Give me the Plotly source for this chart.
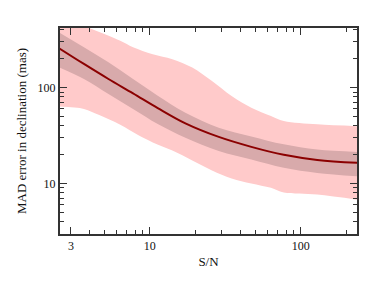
import plotly.graph_objects as go

# Outer (light) band
sn_hi = [2.5, 4.12, 6.37, 7.74, 10.46, 14.1, 19.1, 25.8, 34.8, 47.0, 63.4, 77.1, 128.5, 240]
light_hi = [550, 409, 308, 264, 223, 198, 162, 117, 81.7, 61.8, 50.5, 44.8, 41.4, 39.6]
sn_lo = [2.5, 3.66, 4.58, 6.37, 8.35, 10.46, 14.1, 19.1, 25.8, 34.8, 47.0, 63.4, 77.1, 128.5, 240]
light_lo = [63.5, 60.0, 52.0, 40.9, 32.0, 26.8, 22.1, 17.4, 13.7, 11.3, 10.0, 9.0, 8.05, 7.67, 6.75]

# Inner (dark) band and median line
sn = [2.5, 3.66, 5.32, 7.74, 11.28, 17.2, 28.6, 47.0, 77.1, 128.5, 240]
dark_hi = [378, 264, 184, 123, 82.5, 54.8, 38.2, 31.0, 25.6, 22.6, 21.3]
dark_lo = [163, 123, 85.8, 59.8, 41.7, 30.0, 21.8, 17.8, 14.6, 12.9, 11.9]
median = [258, 176.5, 123, 87.2, 61.2, 42.4, 30.6, 24.1, 19.9, 17.6, 16.4]

x_ticks = [3, 10, 100]
x_minor = [4, 5, 6, 7, 8, 9, 20, 30, 40, 50, 60, 70, 80, 90, 200]
y_ticks = [10, 100]
y_minor = [3, 4, 5, 6, 7, 8, 9, 20, 30, 40, 50, 60, 70, 80, 90, 200, 300, 400]

LIGHT = "#ffcaca"
DARK = "#d8aaab"
LINE = "#8b0000"
AX = "#333333"
TXT = "#111111"
FONT = "Liberation Serif"
SM = 1.0

fig = go.Figure()
fig.add_trace(go.Scatter(x=sn_hi, y=light_hi, mode="lines",
                         line=dict(width=0, shape="spline", smoothing=SM),
                         hoverinfo="skip", showlegend=False))
fig.add_trace(go.Scatter(x=sn_lo, y=light_lo, mode="lines",
                         line=dict(width=0, shape="spline", smoothing=SM),
                         fill="tonexty", fillcolor=LIGHT, hoverinfo="skip", showlegend=False))
fig.add_trace(go.Scatter(x=sn, y=dark_hi, mode="lines",
                         line=dict(width=0, shape="spline", smoothing=SM),
                         hoverinfo="skip", showlegend=False))
fig.add_trace(go.Scatter(x=sn, y=dark_lo, mode="lines",
                         line=dict(width=0, shape="spline", smoothing=SM),
                         fill="tonexty", fillcolor=DARK, hoverinfo="skip", showlegend=False))
fig.add_trace(go.Scatter(x=sn, y=median, mode="lines",
                         line=dict(width=2, color=LINE, shape="spline", smoothing=SM),
                         showlegend=False))

axis_common = dict(
    type="log", showgrid=False, zeroline=False, showline=True, linecolor=AX, linewidth=2,
    mirror="allticks", ticks="inside", ticklen=7, tickwidth=1.2, tickcolor=AX,
    tickfont=dict(family=FONT, size=12, color=TXT),
)
fig.update_xaxes(**axis_common, range=[0.405, 2.372], tickmode="array", tickvals=x_ticks,
                 ticktext=[str(v) for v in x_ticks],
                 minor=dict(tickmode="array", tickvals=x_minor, ticks="inside", ticklen=4, tickcolor=AX, tickwidth=1.2),
                 title=dict(text="S/N", font=dict(family=FONT, size=13, color=TXT), standoff=4))
fig.update_yaxes(**axis_common, range=[0.473, 2.622], tickmode="array", tickvals=y_ticks,
                 ticktext=[str(v) for v in y_ticks],
                 minor=dict(tickmode="array", tickvals=y_minor, ticks="inside", ticklen=4, tickcolor=AX, tickwidth=1.2),
                 title=dict(text="MAD error in declination (mas)", font=dict(family=FONT, size=13, color=TXT), standoff=8))

fig.update_layout(width=377, height=282, margin=dict(l=48, r=28, t=20, b=56),
                  plot_bgcolor="white", paper_bgcolor="white")
fig.write_html("out.html")
